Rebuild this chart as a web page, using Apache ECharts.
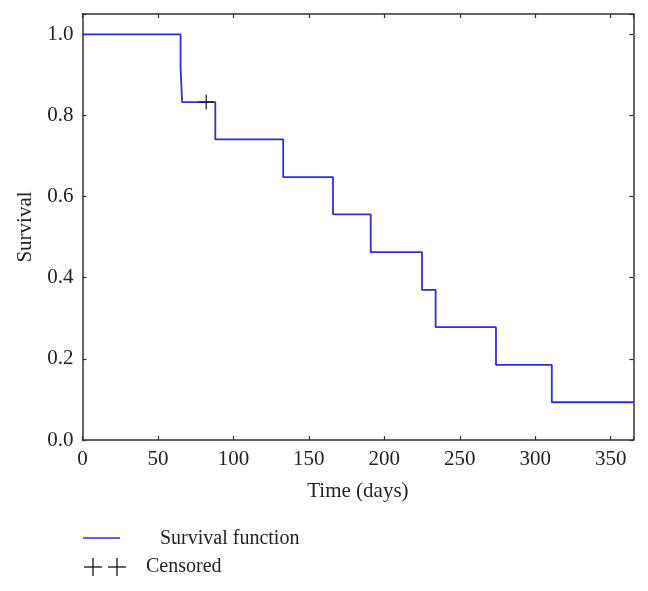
<!DOCTYPE html>
<html>
<head>
<meta charset="utf-8">
<script src="https://cdn.jsdelivr.net/npm/echarts@6/dist/echarts.min.js"></script>
<style>html,body{margin:0;padding:0;background:#fff}#c{width:648px;height:591px}</style>
</head>
<body>
<div id="c"></div>
<script>
// Kaplan-Meier step points [time (days), survival]
var stepTimes = [0, 65, 66, 88, 133, 166, 191, 225, 234, 274, 311, 365];
var survival  = [1.0, 0.917, 0.833, 0.741, 0.648, 0.556, 0.463, 0.370, 0.278, 0.185, 0.093, 0.093];
var censoredTimes = [82];
var censoredSurvival = [0.833];
var xTicks = [0, 50, 100, 150, 200, 250, 300, 350];
var yTicks = [0.0, 0.2, 0.4, 0.6, 0.8, 1.0];
var seriesNames = ['Survival function', 'Censored'];

var FONT = 'Liberation Serif';
var BLUE = '#2e2ee0';
var lineData = stepTimes.map(function (t, i) { return [t, survival[i]]; });
var censData = censoredTimes.map(function (t, i) { return [t, censoredSurvival[i]]; });

var chart = echarts.init(document.getElementById('c'), null, {renderer: 'canvas'});
var axisLineStyle = {color: '#333', width: 1.5};
var tickStyle = {show: true, inside: true, length: 4, lineStyle: {color: '#333', width: 1.2}};
function xLab(show) {
  return {show: show, color: '#222', fontFamily: FONT, fontSize: 21, margin: 9,
    formatter: function (v) { return xTicks.indexOf(v) >= 0 ? String(v) : ''; }};
}
function yLab(show) {
  return {show: show, color: '#222', fontFamily: FONT, fontSize: 21, margin: 9,
    formatter: function (v) {
      for (var i = 0; i < yTicks.length; i++) { if (Math.abs(v - yTicks[i]) < 1e-6) return yTicks[i].toFixed(1); }
      return '';
    }};
}
chart.setOption({
  animation: false,
  backgroundColor: '#fff',
  grid: {left: 82.5, right: 14.7, top: 14, bottom: 151, containLabel: false},
  xAxis: [{
    type: 'value', min: 0, max: 365, interval: 50, position: 'bottom',
    name: 'Time (days)', nameLocation: 'middle', nameGap: 41,
    nameTextStyle: {color: '#222', fontFamily: FONT, fontSize: 21},
    axisLine: {show: true, onZero: false, lineStyle: axisLineStyle},
    axisTick: tickStyle,
    axisLabel: xLab(true), splitLine: {show: false}
  }, {
    type: 'value', min: 0, max: 365, interval: 50, position: 'top',
    axisLine: {show: true, onZero: false, lineStyle: axisLineStyle},
    axisTick: tickStyle,
    axisLabel: {show: false}, splitLine: {show: false}
  }],
  yAxis: [{
    type: 'value', min: 0, max: 1.05, interval: 0.2, position: 'left',
    name: 'Survival', nameLocation: 'middle', nameGap: 47, nameRotate: 90,
    nameTextStyle: {color: '#222', fontFamily: FONT, fontSize: 21},
    axisLine: {show: true, onZero: false, lineStyle: axisLineStyle},
    axisTick: tickStyle,
    axisLabel: yLab(true), splitLine: {show: false}
  }, {
    type: 'value', min: 0, max: 1.05, interval: 0.2, position: 'right',
    axisLine: {show: true, onZero: false, lineStyle: axisLineStyle},
    axisTick: tickStyle,
    axisLabel: {show: false}, splitLine: {show: false}
  }],
  series: [{
    name: seriesNames[0], type: 'line', step: 'end', data: lineData,
    showSymbol: false, symbol: 'none',
    lineStyle: {color: BLUE, width: 1.8}, z: 2
  }, {
    name: seriesNames[1], type: 'scatter', data: censData,
    symbol: 'path://M0,7 L14,7 M7,0 L7,14', symbolSize: 15,
    itemStyle: {color: 'none', borderColor: '#111', borderWidth: 1.5}, z: 3
  }],
  graphic: [
    {type: 'line', shape: {x1: 83, y1: 538, x2: 120, y2: 538}, style: {stroke: BLUE, lineWidth: 1.5}},
    {type: 'text', x: 160, y: 539, style: {text: seriesNames[0], fill: '#222', font: '20px "' + FONT + '"', textVerticalAlign: 'middle', verticalAlign: 'middle'}},
    {type: 'line', shape: {x1: 84, y1: 567, x2: 102, y2: 567}, style: {stroke: '#111', lineWidth: 1.3}},
    {type: 'line', shape: {x1: 93, y1: 558, x2: 93, y2: 576}, style: {stroke: '#111', lineWidth: 1.3}},
    {type: 'line', shape: {x1: 108, y1: 567, x2: 126, y2: 567}, style: {stroke: '#111', lineWidth: 1.3}},
    {type: 'line', shape: {x1: 117, y1: 558, x2: 117, y2: 576}, style: {stroke: '#111', lineWidth: 1.3}},
    {type: 'text', x: 146, y: 567, style: {text: seriesNames[1], fill: '#222', font: '20px "' + FONT + '"', textVerticalAlign: 'middle', verticalAlign: 'middle'}}
  ]
});
</script>
</body>
</html>
